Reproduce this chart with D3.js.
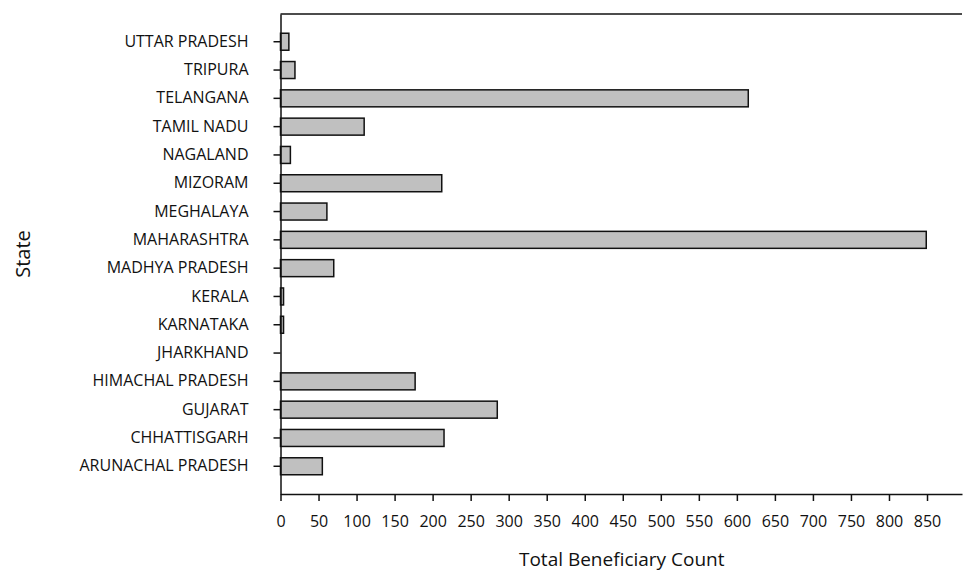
<!DOCTYPE html>
<html>
<head>
<meta charset="utf-8">
<script src="https://cdn.jsdelivr.net/npm/d3@7"></script>
<style>
  body { margin: 0; background: #fff; }
  text { font-family: "Open Sans", "Noto Sans", sans-serif; fill: #111; }
</style>
</head>
<body>
<div id="chart"></div>
<script>
// states, bottom to top as in the picture
var states = ["ARUNACHAL PRADESH", "CHHATTISGARH", "GUJARAT", "HIMACHAL PRADESH", "JHARKHAND",
  "KARNATAKA", "KERALA", "MADHYA PRADESH", "MAHARASHTRA", "MEGHALAYA", "MIZORAM",
  "NAGALAND", "TAMIL NADU", "TELANGANA", "TRIPURA", "UTTAR PRADESH"];
var counts = [55, 215, 285, 177, 0, 4, 4, 70, 849, 61, 212, 13, 110, 615, 19, 11];
var xTicks = [0, 50, 100, 150, 200, 250, 300, 350, 400, 450, 500, 550, 600, 650, 700, 750, 800, 850];

var width = 963, height = 573;
var margin = {top: 14, right: 1, bottom: 79, left: 280.5};

var svg = d3.select("#chart").append("svg")
    .attr("width", width)
    .attr("height", height);

var x = d3.scaleLinear()
    .domain([0, 896])
    .range([margin.left, width - margin.right]);

var y = d3.scaleBand()
    .domain(states.slice().reverse())
    .range([margin.top, height - margin.bottom])
    .paddingInner(0.4)
    .paddingOuter(0.68);

// bars
svg.selectAll(".bar")
    .data(states)
  .enter().append("rect")
    .attr("class", "bar")
    .attr("x", x(0))
    .attr("y", function(d) { return y(d); })
    .attr("width", function(d, i) { return x(counts[i]) - x(0); })
    .attr("height", y.bandwidth())
    .attr("fill", "#c0c0c0")
    .attr("stroke", function(d, i) { return counts[i] > 0 ? "#111" : "none"; })
    .attr("stroke-width", 1.5);

// top frame line
svg.append("line")
    .attr("x1", x(0)).attr("x2", width - margin.right)
    .attr("y1", margin.top).attr("y2", margin.top)
    .attr("stroke", "#111").attr("stroke-width", 1.5);

// x axis
var xAxis = svg.append("g")
    .attr("transform", "translate(0," + (height - margin.bottom) + ")")
    .call(d3.axisBottom(x).tickValues(xTicks).tickSize(7).tickSizeOuter(0).tickPadding(15));
xAxis.selectAll("text").style("font-size", "16px");

// y axis
var yAxis = svg.append("g")
    .attr("transform", "translate(" + x(0) + ",0)")
    .call(d3.axisLeft(y).tickSize(7).tickSizeOuter(0).tickPadding(25));
yAxis.selectAll("text").style("font-size", "16px");

svg.selectAll(".domain, .tick line").attr("stroke", "#111").attr("stroke-width", 1.5);

// axis titles
svg.append("text")
    .attr("x", (x(0) + width) / 2)
    .attr("y", 566)
    .attr("text-anchor", "middle")
    .style("font-size", "19px")
    .text("Total Beneficiary Count");

svg.append("text")
    .attr("transform", "translate(30," + ((margin.top + height - margin.bottom) / 2) + ") rotate(-90)")
    .attr("text-anchor", "middle")
    .style("font-size", "20px")
    .text("State");
</script>
</body>
</html>
